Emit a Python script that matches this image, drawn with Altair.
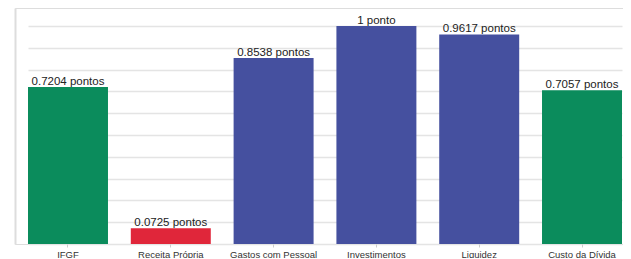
import altair as alt
import pandas as pd

categories = ["IFGF", "Receita Própria", "Gastos com Pessoal", "Investimentos", "Liquidez", "Custo da Dívida"]
values = [0.7204, 0.0725, 0.8538, 1.0, 0.9617, 0.7057]
labels = ["0.7204 pontos", "0.0725 pontos", "0.8538 pontos", "1 ponto", "0.9617 pontos", "0.7057 pontos"]
colors = ["#0b8c5c", "#e0263a", "#45509f", "#45509f", "#45509f", "#0b8c5c"]

df = pd.DataFrame({"cat": categories, "val": values, "lab": labels, "col": colors})

x = alt.X("cat:N", sort=categories, title=None,
          scale=alt.Scale(range=[13, 607], paddingInner=0.222, paddingOuter=0),
          axis=alt.Axis(labelAngle=0, labelFont="Liberation Sans", labelFontSize=9.5,
                        labelColor="#333333", domain=False, tickColor="#cccccc",
                        tickSize=3, labelPadding=2, grid=False))
y = alt.Y("val:Q", title=None,
          scale=alt.Scale(domain=[0, 1.083], nice=False),
          axis=alt.Axis(values=[0.1 * i for i in range(11)], labels=False, ticks=False,
                        domain=True, domainColor="#dddddd", domainWidth=2,
                        gridColor="#e4e4e4", gridWidth=1.5))

base = alt.Chart(df).encode(x=x)
bars = base.mark_bar().encode(y=y, color=alt.Color("col:N", scale=None))
text = base.mark_text(baseline="bottom", dy=0, font="Liberation Sans", fontSize=11.5,
                      color="#222222").encode(y=y, text="lab:N")

chart = (bars + text).properties(
    width=608, height=236,
    padding={"left": 7, "top": 0, "right": 0, "bottom": 14},
    autosize=alt.AutoSizeParams(type="none"),
).configure_view(stroke=None).configure(background="white")

chart.save("out.html", embed_options={"renderer": "svg", "actions": False})
